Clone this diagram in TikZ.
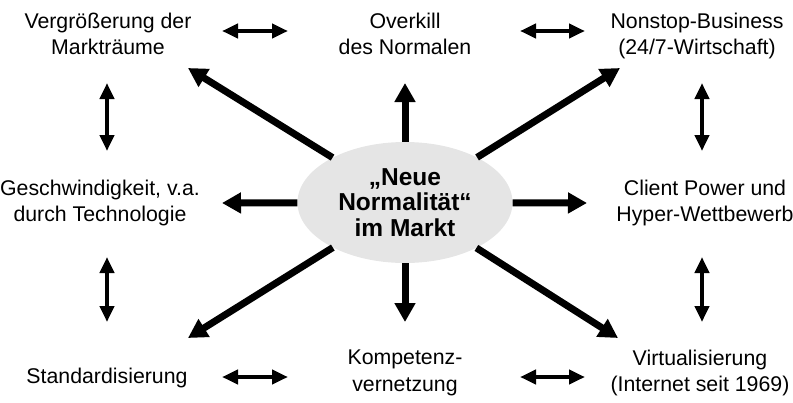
\documentclass[tikz,border=0pt]{standalone}
\usepackage{fontspec}
\setmainfont{Liberation Sans}
\usepackage{tikz}
\usetikzlibrary{arrows.meta, shapes}

\begin{document}
\begin{tikzpicture}[x=1pt, y=-1pt, inner sep=0pt,
	begriff/.style={align=center, font=\fontsize{21.3}{26.8}\selectfont},
	kern/.style={ellipse, fill=black!10, minimum width=215pt, minimum height=121pt, align=center, font=\fontsize{24.5}{25.2}\selectfont\bfseries},
	strahl/.style={line width=7pt, -{Triangle[width=20pt,length=19pt]}},
	wechsel/.style={line width=4.5pt, {Triangle[width=14pt,length=16pt]}-{Triangle[width=14pt,length=16pt]}}]
	
	\useasboundingbox (0,0) rectangle (793,402);
	
	\node[kern](core) at (405,202.5) {\char"201E Neue\\Normalität\char"201C\\im Markt};
	
	\node[begriff](tl) at (108,33.8) {Vergrößerung der\\Markträume};
	\node[begriff](tc) at (405,33.8) {Overkill\\des Normalen};
	\node[begriff](tr) at (697,36) {Nonstop-Business\\(24/7-Wirtschaft)};
	\node[begriff](ml) at (100,203) {Geschwindigkeit, v.a.\\durch Technologie};
	\node[begriff](mr) at (705,203) {Client Power und\\Hyper-Wettbewerb};
	\node[begriff](bl) at (107,378) {Standardisierung};
	\node[begriff](bc) at (405,373) {Kompetenz-\\vernetzung};
	\node[begriff](br) at (700,373) {Virtualisierung\\(Internet seit 1969)};
	
	% Pfeilspitzen der Strahlen
	\coordinate (tl_spitze) at (188,68);
	\coordinate (tc_spitze) at (405,83);
	\coordinate (tr_spitze) at (620,68);
	\coordinate (ml_spitze) at (222,203);
	\coordinate (mr_spitze) at (587,203);
	\coordinate (bl_spitze) at (188,338);
	\coordinate (bc_spitze) at (405,322);
	\coordinate (br_spitze) at (618,338);
	
	% Doppelpfeile
	\coordinate (o1_start) at (222,31);
	\coordinate (o1_ende) at (288,31);
	\coordinate (o2_start) at (520,31);
	\coordinate (o2_ende) at (585,31);
	\coordinate (u1_start) at (222,377);
	\coordinate (u1_ende) at (288,377);
	\coordinate (u2_start) at (520,377);
	\coordinate (u2_ende) at (585,377);
	\coordinate (l1_start) at (107,83);
	\coordinate (l1_ende) at (107,151);
	\coordinate (l2_start) at (107,257);
	\coordinate (l2_ende) at (107,322);
	\coordinate (r1_start) at (702,83);
	\coordinate (r1_ende) at (702,151);
	\coordinate (r2_start) at (702,257);
	\coordinate (r2_ende) at (702,322);
	
	% Strahlen
	\draw[strahl](core) -- (tl_spitze);
	\draw[strahl](core) -- (tc_spitze);
	\draw[strahl](core) -- (tr_spitze);
	\draw[strahl](core) -- (ml_spitze);
	\draw[strahl](core) -- (mr_spitze);
	\draw[strahl](core) -- (bl_spitze);
	\draw[strahl](core) -- (bc_spitze);
	\draw[strahl](core) -- (br_spitze);
	
	% horizontale Pfeile
	\draw[wechsel](o1_start) -- (o1_ende);
	\draw[wechsel](o2_start) -- (o2_ende);
	\draw[wechsel](u1_start) -- (u1_ende);
	\draw[wechsel](u2_start) -- (u2_ende);
	
	% vertikale Pfeile
	\draw[wechsel](l1_start) -- (l1_ende);
	\draw[wechsel](l2_start) -- (l2_ende);
	\draw[wechsel](r1_start) -- (r1_ende);
	\draw[wechsel](r2_start) -- (r2_ende);
\end{tikzpicture}
\end{document}
